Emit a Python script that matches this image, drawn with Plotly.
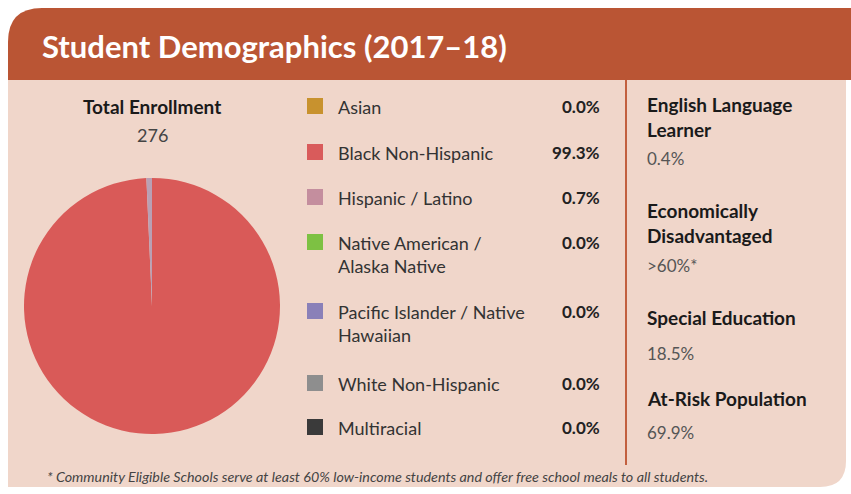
import plotly.graph_objects as go

# ---- data ----
categories = ["Asian", "Black Non-Hispanic", "Hispanic / Latino",
              "Native American /<br>Alaska Native",
              "Pacific Islander / Native<br>Hawaiian",
              "White Non-Hispanic", "Multiracial"]
shares = [0.0, 99.3, 0.7, 0.0, 0.0, 0.0, 0.0]
share_labels = ["0.0%", "99.3%", "0.7%", "0.0%", "0.0%", "0.0%", "0.0%"]
colors = ["#C8922E", "#D95B5B", "#C48E9E", "#7DC143", "#8A80B8", "#8E8E8E", "#3A3A3A"]
pie_colors = ["#C8922E", "#D95A58", "#B9A0B4", "#7DC143", "#8A80B8", "#8E8E8E", "#3A3A3A"]
total_enrollment = "276"
stat_labels = ["English Language<br>Learner", "Economically<br>Disadvantaged",
               "Special Education", "At-Risk Population"]
stat_values = ["0.4%", ">60%*", "18.5%", "69.9%"]
title = "Student Demographics (2017–18)"
footnote = ("* Community Eligible Schools serve at least 60% low-income students "
            "and offer free school meals to all students.")

W, H = 851, 494
HEADER = "#BA5534"
BODY = "#F0D6CA"
FONT = "Lato"

fig = go.Figure()

# pie
px0, px1, py0, py1 = 24, 280, 175, 437
fig.add_trace(go.Pie(
    labels=[c.replace("<br>", " ") for c in categories], values=shares, sort=False,
    direction="clockwise", rotation=0, textinfo="none", hoverinfo="label+percent",
    marker=dict(colors=pie_colors, line=dict(width=0)),
    domain=dict(x=[px0 / W, px1 / W], y=[1 - py1 / H, 1 - py0 / H]),
    showlegend=False,
))

shapes = []
# header with rounded top-left
r = 34
shapes.append(dict(type="path", xref="x", yref="y", layer="below",
                   path=f"M 8 {8+r} Q 8 8 {8+r} 8 L 851 8 L 851 80 L 8 80 Z",
                   fillcolor=HEADER, line=dict(width=0)))
# body with rounded bottom-right
r2 = 26
shapes.append(dict(type="path", xref="x", yref="y", layer="below",
                   path=f"M 8 80 L 846 80 L 846 {487-r2} Q 846 487 {846-r2} 487 L 8 487 Z",
                   fillcolor=BODY, line=dict(width=0)))
# divider
shapes.append(dict(type="line", xref="x", yref="y", x0=626, x1=626, y0=80, y1=465,
                   line=dict(color="#C2603F", width=2)))

annotations = []
annotations.append(dict(x=40, y=46, xref="x", yref="y", text=f"<b>{title}</b>",
                        showarrow=False, xanchor="left", yanchor="middle",
                        font=dict(family=FONT, size=31, color="white")))
annotations.append(dict(x=152, y=106, xref="x", yref="y", text="<b>Total Enrollment</b>",
                        showarrow=False, xanchor="center", yanchor="middle",
                        font=dict(family=FONT, size=19, color="#1a1a1a")))
annotations.append(dict(x=152, y=135, xref="x", yref="y", text=total_enrollment,
                        showarrow=False, xanchor="center", yanchor="middle",
                        font=dict(family=FONT, size=18, color="#444444")))

row_y = [106, 152, 197, 242, 311, 383, 427]
for cat, lab, col, yy in zip(categories, share_labels, colors, row_y):
    shapes.append(dict(type="rect", xref="x", yref="y", x0=307, x1=323,
                       y0=yy - 8, y1=yy + 8, fillcolor=col, line=dict(width=0)))
    annotations.append(dict(x=336, y=yy - 12, xref="x", yref="y", text=cat,
                            showarrow=False, xanchor="left", yanchor="top", align="left",
                            font=dict(family=FONT, size=18, color="#333333")))
    annotations.append(dict(x=602, y=yy, xref="x", yref="y", text=f"<b>{lab}</b>",
                            showarrow=False, xanchor="right", yanchor="middle",
                            font=dict(family=FONT, size=17, color="#222222")))

label_y = [91, 197, 304, 385]
value_y = [158, 265, 353, 432]
for lab, val, ly, vy in zip(stat_labels, stat_values, label_y, value_y):
    annotations.append(dict(x=645, y=ly, xref="x", yref="y", text=f"<b>{lab}</b>",
                            showarrow=False, xanchor="left", yanchor="top", align="left",
                            font=dict(family=FONT, size=19, color="#1a1a1a")))
    annotations.append(dict(x=645, y=vy, xref="x", yref="y", text=val,
                            showarrow=False, xanchor="left", yanchor="middle",
                            font=dict(family=FONT, size=17, color="#555555")))

annotations.append(dict(x=45, y=476, xref="x", yref="y", text=f"<i>{footnote}</i>",
                        showarrow=False, xanchor="left", yanchor="middle",
                        font=dict(family=FONT, size=14.3, color="#444444")))

fig.update_layout(
    width=W, height=H, margin=dict(l=0, r=0, t=0, b=0),
    paper_bgcolor="white", plot_bgcolor="rgba(0,0,0,0)",
    xaxis=dict(range=[0, W], visible=False, fixedrange=True),
    yaxis=dict(range=[H, 0], visible=False, fixedrange=True),
    shapes=shapes, annotations=annotations, showlegend=False,
)

fig.write_html("out.html", config={"displayModeBar": False},
               post_script="document.body.style.margin='0';")
